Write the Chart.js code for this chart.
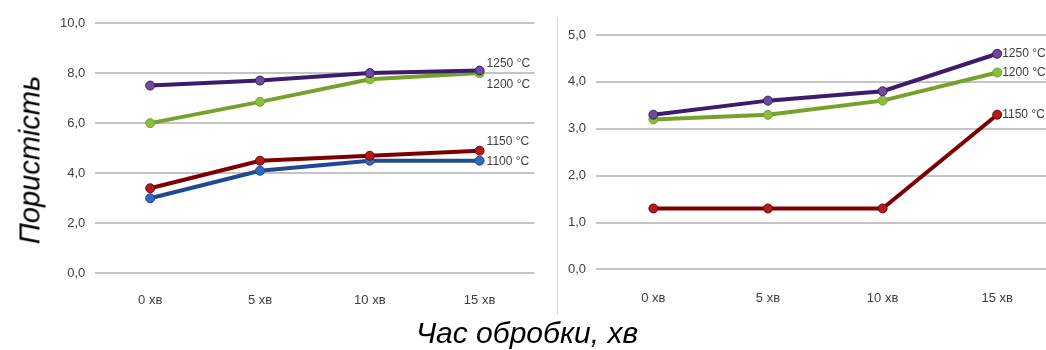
<!DOCTYPE html>
<html>
<head>
<meta charset="utf-8">
<script src="https://cdn.jsdelivr.net/npm/chart.js@4/dist/chart.umd.min.js"></script>
<style>
  body { margin: 0; background: #fff; width: 1046px; height: 350px; overflow: hidden; position: relative; }
  #box1 { position: absolute; left: 40px; top: 0; width: 500px; height: 333px; }
  #box2 { position: absolute; left: 540px; top: 0; width: 520px; height: 333px; }
  #sep { position: absolute; left: 557px; top: 17px; width: 1px; height: 298px; background: #d9d9d9; }
  #ytitle { position: absolute; left: 30px; top: 160px; transform: translate(-50%, -50%) rotate(-90deg);
            font: italic 29px "Liberation Sans", Arial, sans-serif; color: #000; white-space: nowrap; }
  #xtitle { position: absolute; left: 527px; top: 333px; transform: translate(-50%, -50%);
            font: italic 30px "Liberation Sans", Arial, sans-serif; color: #000; white-space: nowrap; }
</style>
</head>
<body>
<div id="box1"><canvas id="chart1"></canvas></div>
<div id="sep"></div>
<div id="box2"><canvas id="chart2"></canvas></div>
<div id="ytitle">Пористість</div>
<div id="xtitle">Час обробки, хв</div>
<script>
var categories = ["0 хв", "5 хв", "10 хв", "15 хв"];

// ліва діаграма
var left1250 = [7.5, 7.7, 8.0, 8.1];
var left1200 = [6.0, 6.85, 7.75, 8.0];
var left1150 = [3.4, 4.5, 4.7, 4.9];
var left1100 = [3.0, 4.1, 4.5, 4.5];

// права діаграма
var right1250 = [3.3, 3.6, 3.8, 4.6];
var right1200 = [3.2, 3.3, 3.6, 4.2];
var right1150 = [1.3, 1.3, 1.3, 3.3];

var tickFont = { family: "'Liberation Sans Narrow', 'Liberation Sans', sans-serif", size: 13 };

var colors = {
  "1250 °C": { line: "#3b1d6c", point: "#6a4b9c" },
  "1200 °C": { line: "#75a22a", point: "#8fbb3e" },
  "1150 °C": { line: "#7d0000", point: "#ad1f1f" },
  "1100 °C": { line: "#1f4a92", point: "#2f69c2" }
};

function ds(label, data) {
  return {
    label: label,
    data: data,
    borderColor: colors[label].line,
    backgroundColor: colors[label].point,
    pointBackgroundColor: colors[label].point,
    pointBorderColor: colors[label].line,
    borderWidth: 4,
    pointRadius: 4.5,
    pointBorderWidth: 1,
    pointHoverRadius: 4.5,
    tension: 0
  };
}

// підписи біля останньої точки
var endLabels = {
  id: "endLabels",
  afterDatasetsDraw: function(chart, args, opts) {
    var ctx = chart.ctx;
    ctx.save();
    ctx.font = "12px " + tickFont.family;
    ctx.fillStyle = "#404040";
    ctx.textBaseline = "middle";
    chart.data.datasets.forEach(function(d, i) {
      var meta = chart.getDatasetMeta(i);
      var pt = meta.data[meta.data.length - 1];
      var dy = (opts.dy && opts.dy[d.label]) || 0;
      ctx.fillText(d.label, pt.x + opts.dx, pt.y + dy);
    });
    ctx.restore();
  }
};

function makeOptions(max, step, padTop, padBottom, padLeft, xPad, dx, dy) {
  return {
    responsive: true,
    maintainAspectRatio: false,
    animation: false,
    layout: { padding: { top: padTop, bottom: padBottom, left: padLeft, right: 0 } },
    plugins: {
      legend: { display: false },
      tooltip: { enabled: false },
      endLabels: { dx: dx, dy: dy }
    },
    scales: {
      x: {
        offset: true,
        grid: { display: false },
        border: { display: false },
        ticks: { font: tickFont, color: "#404040", padding: xPad }
      },
      y: {
        min: 0, max: max,
        ticks: {
          stepSize: step, font: tickFont, color: "#404040", padding: 10,
          callback: function(v) { return v.toFixed(1).replace(".", ","); }
        },
        grid: { color: "#c4c4c4", lineWidth: 2, drawTicks: false },
        border: { display: false }
      }
    }
  };
}

new Chart(document.getElementById("chart1"), {
  type: "line",
  data: {
    labels: categories,
    datasets: [ds("1250 °C", left1250), ds("1200 °C", left1200), ds("1150 °C", left1150), ds("1100 °C", left1100)]
  },
  options: makeOptions(10, 2, 23, 14, 10, 11, 7, { "1250 °C": -7, "1200 °C": 12, "1150 °C": -9, "1100 °C": 1 }),
  plugins: [endLabels]
});

new Chart(document.getElementById("chart2"), {
  type: "line",
  data: {
    labels: categories,
    datasets: [ds("1250 °C", right1250), ds("1200 °C", right1200), ds("1150 °C", right1150)]
  },
  options: makeOptions(5, 1, 35, 14, 18, 13, 5, {}),
  plugins: [endLabels]
});
</script>
</body>
</html>
